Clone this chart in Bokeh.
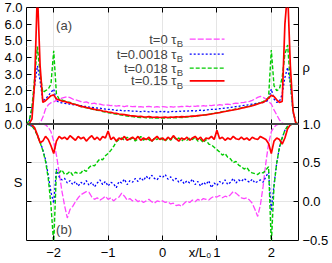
from bokeh.plotting import figure
from bokeh.models import Range1d, LinearAxis, FixedTicker, Label, Arrow, Span
from bokeh.embed import file_html
from bokeh.resources import INLINE

# ---------------- data ----------------
x = [-2.50, -2.45, -2.40, -2.35, -2.30, -2.25, -2.20, -2.15, -2.10, -2.05,
     -2.00, -1.95, -1.90, -1.85, -1.80, -1.75, -1.70, -1.65, -1.60, -1.55,
     -1.50, -1.45, -1.40, -1.35, -1.30, -1.25, -1.20, -1.15, -1.10, -1.05,
     -1.00, -0.95, -0.90, -0.85, -0.80, -0.75, -0.70, -0.65, -0.60, -0.55,
     -0.50, -0.45, -0.40, -0.35, -0.30, -0.25, -0.20, -0.15, -0.10, -0.05,
     0.00, 0.05, 0.10, 0.15, 0.20, 0.25, 0.30, 0.35, 0.40, 0.45,
     0.50, 0.55, 0.60, 0.65, 0.70, 0.75, 0.80, 0.85, 0.90, 0.95,
     1.00, 1.05, 1.10, 1.15, 1.20, 1.25, 1.30, 1.35, 1.40, 1.45,
     1.50, 1.55, 1.60, 1.65, 1.70, 1.75, 1.80, 1.85, 1.90, 1.95,
     2.00, 2.05, 2.10, 2.15, 2.20, 2.25, 2.30, 2.35, 2.40, 2.45,
     2.50]

# density rho, panel (a)
rho_t0 = [0.0, 0.0, 0.0, 0.0, 0.0, 0.05, 0.4, 0.9, 1.15, 1.28,
          1.33, 1.42, 1.48, 1.55, 1.6, 1.65, 1.58, 1.5, 1.45, 1.4,
          1.35, 1.3, 1.33, 1.26, 1.22, 1.25, 1.18, 1.2, 1.15, 1.12,
          1.14, 1.1, 1.12, 1.08, 1.1, 1.07, 1.05, 1.09, 1.06, 1.04,
          1.06, 1.03, 1.05, 1.02, 1.04, 1.06, 1.03, 1.01, 1.04, 1.02,
          1.05, 1.03, 1.0, 1.04, 1.02, 1.05, 1.03, 1.06, 1.04, 1.07,
          1.05, 1.08, 1.06, 1.09, 1.07, 1.1, 1.08, 1.12, 1.1, 1.14,
          1.12, 1.16, 1.14, 1.18, 1.2, 1.17, 1.22, 1.25, 1.24, 1.28,
          1.3, 1.33, 1.36, 1.42, 1.5, 1.6, 1.66, 1.6, 1.5, 1.35,
          1.2, 0.85, 0.55, 0.25, 0.05, 0.0, 0.0, 0.0, 0.0, 0.0,
          0.0]
rho_t1 = [0.0, 0.15, 0.9, 2.3, 3.5, 2.6, 1.4, 1.5, 1.7, 1.9,
          2.1, 1.4, 1.3, 1.27, 1.24, 1.22, 1.2, 1.16, 1.15, 1.12,
          1.1, 1.06, 1.05, 1.02, 1.0, 0.98, 0.96, 0.95, 0.92, 0.9,
          0.88, 0.87, 0.85, 0.82, 0.84, 0.8, 0.79, 0.81, 0.78, 0.77,
          0.78, 0.76, 0.74, 0.77, 0.75, 0.73, 0.76, 0.74, 0.72, 0.75,
          0.73, 0.75, 0.72, 0.74, 0.76, 0.74, 0.77, 0.75, 0.78, 0.77,
          0.79, 0.8, 0.78, 0.82, 0.83, 0.81, 0.85, 0.86, 0.88, 0.87,
          0.9, 0.92, 0.94, 0.96, 0.97, 1.0, 1.02, 1.05, 1.06, 1.1,
          1.12, 1.14, 1.16, 1.2, 1.22, 1.25, 1.27, 1.3, 1.35, 1.45,
          2.1, 1.5, 1.3, 1.35, 1.8, 2.8, 3.4, 2.4, 0.7, 0.1,
          0.0]
rho_t2 = [0.0, 0.2, 1.0, 2.8, 4.65, 3.0, 1.9, 2.0, 2.1, 2.4,
          4.4, 1.8, 1.5, 1.45, 1.38, 1.33, 1.3, 1.22, 1.18, 1.12,
          1.05, 1.02, 0.97, 0.94, 0.9, 0.86, 0.82, 0.8, 0.75, 0.72,
          0.68, 0.66, 0.62, 0.6, 0.56, 0.54, 0.5, 0.48, 0.46, 0.44,
          0.42, 0.4, 0.38, 0.4, 0.37, 0.36, 0.38, 0.35, 0.37, 0.36,
          0.37, 0.35, 0.38, 0.36, 0.39, 0.37, 0.4, 0.38, 0.41, 0.42,
          0.43, 0.45, 0.47, 0.49, 0.52, 0.53, 0.56, 0.58, 0.62, 0.64,
          0.67, 0.7, 0.74, 0.77, 0.8, 0.84, 0.86, 0.9, 0.93, 0.97,
          1.0, 1.04, 1.08, 1.12, 1.17, 1.22, 1.28, 1.35, 1.45, 1.6,
          4.45, 2.3, 2.0, 2.1, 2.8, 4.2, 4.75, 2.5, 0.8, 0.1,
          0.0]
rho_t3 = [0.0, 0.02, 0.3, 2.5, 8.0, 3.5, 1.3, 1.4, 1.55, 1.7,
          1.75, 1.5, 1.45, 1.38, 1.36, 1.3, 1.27, 1.2, 1.17, 1.12,
          1.06, 1.03, 0.99, 0.95, 0.92, 0.88, 0.85, 0.83, 0.78, 0.76,
          0.72, 0.7, 0.66, 0.64, 0.6, 0.58, 0.56, 0.53, 0.5, 0.49,
          0.47, 0.45, 0.46, 0.43, 0.42, 0.44, 0.41, 0.4, 0.42, 0.39,
          0.4, 0.41, 0.39, 0.42, 0.4, 0.43, 0.42, 0.44, 0.43, 0.45,
          0.46, 0.48, 0.47, 0.5, 0.52, 0.54, 0.55, 0.58, 0.6, 0.63,
          0.66, 0.68, 0.72, 0.75, 0.78, 0.82, 0.84, 0.88, 0.9, 0.95,
          0.98, 1.02, 1.05, 1.1, 1.15, 1.2, 1.26, 1.3, 1.4, 1.55,
          1.72, 1.65, 1.45, 1.3, 1.35, 6.0, 8.0, 3.5, 0.8, 0.05,
          0.0]

# order parameter S, panel (b)
S_t0 = [1.0, 1.0, 1.0, 1.0, 1.0, 1.0, 1.0, 0.99, 0.96, 0.9,
        0.78, 0.6, 0.38, 0.14, -0.05, -0.21, -0.1, -0.06, 0.0, 0.05,
        0.09, 0.11, 0.13, 0.12, 0.06, 0.03, 0.05, 0.02, 0.04, 0.07,
        0.03, 0.05, 0.01, 0.04, 0.06, 0.11, 0.07, 0.02, 0.04, 0.01,
        0.03, 0.0, 0.02, -0.01, 0.01, 0.03, 0.0, -0.02, 0.01, 0.0,
        0.01, -0.01, 0.0, -0.03, -0.02, -0.05, -0.04, -0.06, -0.02, 0.01,
        -0.01, 0.02, 0.0, 0.03, 0.01, 0.04, 0.03, 0.02, 0.05, 0.07,
        0.06, 0.08, 0.05, 0.07, 0.06, 0.09, 0.13, 0.11, 0.08, 0.05,
        0.04, 0.05, 0.02, -0.02, -0.1, -0.19, -0.04, 0.2, 0.5, 0.75,
        0.9, 0.96, 0.99, 1.0, 1.0, 1.0, 1.0, 1.0, 1.0, 1.0,
        1.0]
S_t1 = [1.0, 0.99, 0.97, 0.93, 0.86, 0.77, 0.67, 0.54, 0.34, 0.12,
        -0.02, 0.42, 0.32, 0.28, 0.3, 0.24, 0.27, 0.22, 0.26, 0.2,
        0.25, 0.22, 0.27, 0.21, 0.25, 0.19, 0.24, 0.28, 0.22, 0.26,
        0.2, 0.25, 0.23, 0.18, 0.26, 0.24, 0.29, 0.22, 0.27, 0.25,
        0.3, 0.26, 0.31, 0.27, 0.33, 0.29, 0.34, 0.3, 0.28, 0.33,
        0.31, 0.35, 0.29, 0.32, 0.27, 0.3, 0.25, 0.28, 0.23, 0.27,
        0.24, 0.29, 0.22, 0.26, 0.2, 0.25, 0.22, 0.27, 0.18, 0.24,
        0.21, 0.26, 0.23, 0.28, 0.22, 0.25, 0.3, 0.24, 0.28, 0.26,
        0.3, 0.27, 0.25, 0.29, 0.24, 0.26, 0.28, 0.25, 0.32, 0.38,
        -0.12, 0.22, 0.5, 0.7, 0.82, 0.92, 0.97, 0.99, 1.0, 1.0,
        1.0]
S_t2 = [1.0, 0.99, 0.97, 0.93, 0.85, 0.76, 0.66, 0.52, 0.3, -0.05,
        -0.55, 0.4, 0.37, 0.41, 0.35, 0.36, 0.39, 0.34, 0.38, 0.36,
        0.37, 0.41, 0.39, 0.44, 0.47, 0.46, 0.51, 0.55, 0.54, 0.59,
        0.62, 0.66, 0.71, 0.77, 0.8, 0.82, 0.79, 0.83, 0.8, 0.82,
        0.78, 0.81, 0.84, 0.79, 0.82, 0.8, 0.77, 0.82, 0.8, 0.83,
        0.8, 0.78, 0.82, 0.79, 0.84, 0.8, 0.82, 0.78, 0.81, 0.79,
        0.82, 0.8, 0.83, 0.78, 0.8, 0.76, 0.8, 0.74, 0.73, 0.7,
        0.67, 0.64, 0.6, 0.62, 0.57, 0.55, 0.5, 0.52, 0.47, 0.45,
        0.42, 0.44, 0.39, 0.37, 0.36, 0.35, 0.38, 0.37, 0.41, 0.45,
        -0.55, 0.2, 0.5, 0.7, 0.82, 0.92, 0.97, 0.99, 1.0, 1.0,
        1.0]
S_t3 = [1.0, 1.0, 0.99, 0.95, 0.86, 0.76, 0.78, 0.84, 0.8, 0.72,
        0.62, 0.78, 0.84, 0.81, 0.83, 0.8, 0.85, 0.82, 0.79, 0.84,
        0.81, 0.83, 0.78, 0.82, 0.85, 0.8, 0.83, 0.79, 0.84, 0.82,
        0.91, 0.8, 0.83, 0.78, 0.82, 0.8, 0.84, 0.79, 0.81, 0.83,
        0.8, 0.84, 0.79, 0.82, 0.8, 0.83, 0.78, 0.81, 0.84, 0.8,
        0.82, 0.79, 0.83, 0.8, 0.85, 0.81, 0.78, 0.82, 0.8, 0.83,
        0.79, 0.82, 0.84, 0.8, 0.83, 0.78, 0.82, 0.81, 0.84, 0.8,
        0.92, 0.81, 0.83, 0.79, 0.82, 0.8, 0.84, 0.81, 0.8, 0.83,
        0.8, 0.82, 0.79, 0.83, 0.81, 0.8, 0.84, 0.82, 0.8, 0.75,
        0.62, 0.78, 0.82, 0.8, 0.74, 0.82, 0.94, 0.99, 1.0, 1.0,
        1.0]

series_labels = ["t=0 τ", "t=0.0018 τ", "t=0.018 τ", "t=0.15 τ"]
x_ticks = [-2, -1, 0, 1, 2]
x_tick_labels = ["−2", "−1", "0", "1", "2"]
rho_ticks = [0, 1, 2, 3, 4, 5, 6, 7]
rho_tick_labels = ["0.0", "1.0", "2.0", "3.0", "4.0", "5.0", "6.0", "7.0"]
S_ticks = [-0.5, 0, 0.5, 1.0]
S_tick_labels = ["−0.5", "0.0", "0.5", "1.0"]

# ---------------- geometry of the stacked panels ----------------
X_LO, X_HI = -2.5, 2.5
S_LO, S_HI = -0.5, 1.0          # panel (b), lower half
RHO_LO, RHO_HI = 0.0, 7.0       # panel (a), upper half
S_SPAN = S_HI - S_LO
RHO_SPAN = RHO_HI - RHO_LO


def rho_to_S(r):
    return S_HI + (r - RHO_LO) * S_SPAN / RHO_SPAN


def S_to_rho(s):
    return RHO_LO + (s - S_HI) * RHO_SPAN / S_SPAN


FONT = "Liberation Sans"
colors = ["#ff44ff", "#0000ff", "#00cc00", "#ff0000"]
dashes = ["6 2", "2 2", "4 2", "solid"]
widths = [1.3, 1.3, 1.4, 1.7]

p = figure(width=332, height=263,
           x_range=Range1d(X_LO, X_HI),
           y_range=Range1d(S_LO, S_HI + S_SPAN),
           x_axis_location=None, y_axis_location=None,
           output_backend="svg", toolbar_location=None,
           min_border_left=26, min_border_right=34,
           min_border_top=7, min_border_bottom=23)
p.extra_y_ranges = {"rho": Range1d(RHO_LO - RHO_SPAN, RHO_HI)}
p.outline_line_color = "black"
p.outline_line_width = 1
p.outline_line_alpha = 1
p.background_fill_color = "white"
p.border_fill_color = "white"


def axis(side, ticks, labels=None, rng="default", fixed=None, tin=5, tout=0, standoff=4):
    ax = LinearAxis(ticker=FixedTicker(ticks=ticks), y_range_name=rng)
    if fixed is not None:
        ax.fixed_location = fixed
    ax.major_tick_in = tin
    ax.major_tick_out = tout
    ax.minor_tick_line_color = None
    ax.axis_line_color = None
    ax.major_tick_line_color = "black"
    ax.major_label_standoff = standoff
    if labels is not None:
        ax.major_label_overrides = dict(zip(ticks, labels))
        ax.major_label_text_font = FONT
        ax.major_label_text_font_size = "13px"
        ax.major_label_text_color = "black"
    else:
        ax.major_label_text_color = None
    p.add_layout(ax, side)
    return ax


# labelled outer axes (tick marks drawn separately below)
S_title_pos = S_to_rho(0.25)
rho_title_pos = rho_to_S(3.4)
axis("left", rho_ticks + [S_title_pos], rho_tick_labels + ["S"], rng="rho", tin=0)
axis("right", S_ticks + [rho_title_pos], S_tick_labels + ["ρ"], tin=0)
axis("below", x_ticks + [0.69], x_tick_labels + ["x/L₀"], tin=0)

# inward tick marks on every panel edge
axis("left", [r for r in rho_ticks if r > RHO_LO], rng="rho", fixed=X_LO)
axis("left", [s for s in S_ticks if S_LO < s < S_HI], fixed=X_LO)
axis("right", [r for r in rho_ticks if r > RHO_LO], rng="rho", fixed=X_HI)
axis("right", [s for s in S_ticks if S_LO < s < S_HI], fixed=X_HI)
axis("above", x_ticks, fixed=S_HI + S_SPAN)
axis("below", x_ticks, fixed=S_LO)
axis("below", x_ticks, fixed=S_HI, tin=5, tout=5)

# panel separator
p.add_layout(Span(location=S_HI, dimension="width", line_color="#444444", line_width=2))

# curves
for ys, c, d, w in zip([rho_t0, rho_t1, rho_t2, rho_t3], colors, dashes, widths):
    p.line(x, ys, y_range_name="rho", line_color=c, line_dash=d, line_width=w)
for ys, c, d, w in zip([S_t0, S_t1, S_t2, S_t3], colors, dashes, widths):
    p.line(x, ys, line_color=c, line_dash=d, line_width=w)

# panel tags
p.add_layout(Label(x=-1.81, y=5.92, y_range_name="rho", text="(a)", text_font=FONT,
                   text_font_size="13px", text_align="center", text_baseline="middle"))
p.add_layout(Label(x=-1.81, y=-0.36, text="(b)", text_font=FONT,
                   text_font_size="13px", text_align="center", text_baseline="middle"))

# key
legend_y = [5.1, 4.2, 3.36, 2.59]
for lab, yy, c, d, w in zip(series_labels, legend_y, colors, dashes, widths):
    p.add_layout(Label(x=0.255, y=yy, y_range_name="rho", text=lab, text_font=FONT,
                       text_font_size="13px", text_align="right", text_baseline="middle"))
    p.add_layout(Label(x=0.26, y=yy - 0.27, y_range_name="rho", text="B", text_font=FONT,
                       text_font_size="9.5px", text_align="left", text_baseline="middle"))
    p.add_layout(Arrow(start=None, end=None, x_start=0.5, y_start=yy, x_end=1.14, y_end=yy,
                       y_range_name="rho", line_color=c, line_dash=d, line_width=w))

open("out.html", "w").write(file_html(p, INLINE))
